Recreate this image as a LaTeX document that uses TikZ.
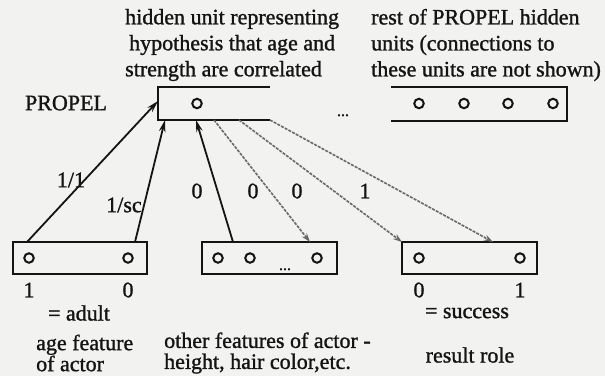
\documentclass[tikz,border=0pt]{standalone}
\usepackage{fontspec}
\setmainfont{Liberation Serif}
\newfontfamily\printfont{Liberation Serif}[FakeBold=1.2]
\usetikzlibrary{arrows.meta}
\definecolor{paper}{RGB}{242,242,240}
\definecolor{ink}{RGB}{20,20,20}
\definecolor{wire}{RGB}{105,105,105}

\begin{document}
\begin{tikzpicture}[x=1pt,y=-1pt,
  txt/.style={font=\printfont\fontsize{22}{26}\selectfont, text=ink, inner sep=0pt},
  lowtxt/.style={font=\printfont\fontsize{22}{21}\selectfont, text=ink, inner sep=0pt},
  dots/.style={font=\printfont\fontsize{16}{16}\selectfont, text=ink, inner sep=0pt, anchor=base},
  unitbox/.style={draw=ink, line width=2pt, minimum height=32pt, inner sep=0pt},
  openbox/.style={draw=ink, line width=2pt},
  unit/.style={circle, draw=ink, line width=2pt, minimum size=9.5pt, inner sep=0pt},
  feed/.style={draw=ink, line width=1.8pt, -{Stealth[length=12pt,width=6.5pt]}},
  link/.style={draw=wire, line width=1.6pt, dash pattern=on 3pt off 1.2pt,
    -{Stealth[length=9pt,width=6pt]}}]

% paper
\fill[paper] (0,0) rectangle (605,376);
\useasboundingbox (0,0) rectangle (605,376);

% captions above the PROPEL layer
\node[txt, align=left, anchor=west] (hypnote) at (125,45)
  {hidden unit representing\\\hspace*{4pt}hypothesis that age and\\strength are correlated};
\node[txt, align=left, anchor=west] (restnote) at (371,45)
  {rest of PROPEL hidden\\units (connections to\\these units are not shown)};
\node[txt] (propel) at (66,103) {PROPEL};

% PROPEL layer, drawn as a box broken in the middle
\draw[openbox] (270,87) -- (158,87) -- (158,120) -- (270,120);
\draw[openbox] (391,86.5) -- (567,86.5) -- (567,120.5) -- (391,120.5);
\node[unit] (hyp) at (197,103.5) {};
\node[dots] (gap) at (343,116) {...};
\node[unit] (p1) at (419,103.5) {};
\node[unit] (p2) at (464,103.5) {};
\node[unit] (p3) at (508,103.5) {};
\node[unit] (p4) at (553,103.5) {};

% attachment points on the hidden unit box
\coordinate (hypL) at (158,101);
\coordinate (hypA) at (165,120);
\coordinate (hypB) at (196,120);
\coordinate (hypC) at (214,120);
\coordinate (hypD) at (239,120);
\coordinate (hypE) at (270,120);

% input / output feature groups
\node[unitbox, minimum width=134pt] (age) at (80,258) {};
\node[unit] (a1) at (29,258) {};
\node[unit] (a2) at (128,258) {};

\node[unitbox, minimum width=135pt] (other) at (269.5,258) {};
\node[unit] (o1) at (218,258) {};
\node[unit] (o2) at (250,258) {};
\node[unit] (o3) at (317,258) {};
\node[dots] (ogap) at (285,270) {...};

\node[unitbox, minimum width=135pt] (result) at (469.5,258) {};
\node[unit] (r1) at (419,258) {};
\node[unit] (r2) at (520,258) {};

% attachment points on the feature boxes
\coordinate (ageA) at (27,242);
\coordinate (ageB) at (135,242);
\coordinate (othA) at (233,242);
\coordinate (othB) at (310,242);
\coordinate (resA) at (402,242);
\coordinate (resB) at (493,242);

% connections
\draw[feed] (ageA) -- (hypL);
\draw[feed] (ageB) -- (hypA);
\draw[feed] (othA) -- (hypB);
\draw[link] (hypC) -- (othB);
\draw[link] (hypD) -- (resA);
\draw[link] (hypE) -- (resB);

% weights
\node[txt] (w1) at (71,180) {1/1};
\node[txt] (w2) at (124,205) {1/sc};
\node[txt] (w3) at (197,191) {0};
\node[txt] (w4) at (253,191) {0};
\node[txt] (w5) at (297,191) {0};
\node[txt] (w6) at (365,191) {1};

% unit values and captions below
\node[txt] (v1) at (29,290) {1};
\node[txt] (v2) at (128,290) {0};
\node[txt] (v3) at (419,290) {0};
\node[txt] (v4) at (520,290) {1};
\node[txt] (adult) at (79,313) {= adult};
\node[txt] (success) at (467,313) {= success};

\node[lowtxt, align=left, anchor=west] (agenote) at (36,353)
  {age feature\\of actor};
\node[lowtxt, align=left, anchor=west] (othernote) at (164,353)
  {other features of actor -\\height, hair color,etc.};
\node[txt] (resultnote) at (470,355) {result role};
\end{tikzpicture}
\end{document}
